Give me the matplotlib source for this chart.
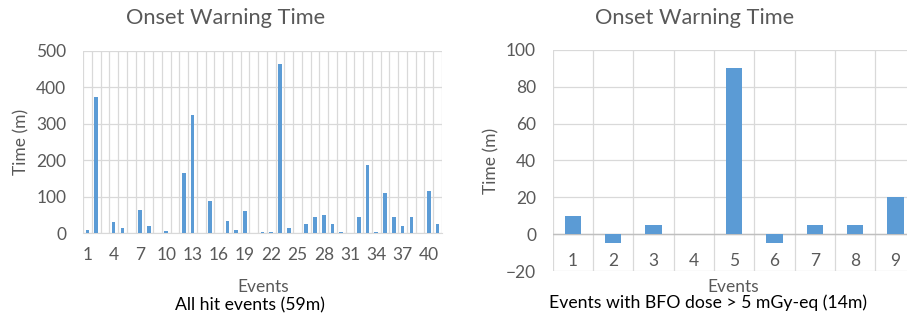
import numpy as np
import matplotlib.pyplot as plt

plt.rcParams['font.family'] = ['Lato', 'DejaVu Sans']

# left chart: all hit events
all_events = list(range(1, 42))
all_times = [9, 374, 0, 30, 15, 0, 62, 19, 0, 5, 0, 165, 325, 0, 88, 0, 34, 9, 60, 0,
             4, 4, 465, 15, 0, 26, 45, 49, 26, 4, 0, 45, 188, 4, 110, 45, 19, 45, 0, 115, 26]
all_ticks = list(range(1, 42, 3))

# right chart: events with BFO dose > 5 mGy-eq
bfo_events = list(range(1, 10))
bfo_times = [10, -5, 5, 0, 90, -5, 5, 5, 20]

bar_color = '#5B9BD5'
grid_color = '#D9D9D9'
text_color = '#595959'

fig = plt.figure(figsize=(9.07, 3.25), dpi=100)
fs = 12.5

# left
ax1 = fig.add_axes([83 / 907, 1 - 233 / 325, 359 / 907, 182 / 325])
ax1.bar(all_events, all_times, width=0.42, color=bar_color, zorder=3)
ax1.set_xlim(0.5, 41.5)
ax1.set_ylim(0, 500)
ax1.set_yticks(range(0, 501, 100))
ax1.set_xticks(all_ticks)
ax1.set_xticks(np.arange(0.5, 42, 1), minor=True)
ax1.grid(axis='y', color=grid_color, lw=0.9, zorder=0)
ax1.grid(axis='x', which='minor', color=grid_color, lw=0.9, zorder=0)
ax1.tick_params(which='both', length=0, labelsize=fs, colors=text_color)
ax1.tick_params(axis='x', pad=10)
ax1.tick_params(axis='y', pad=12)
for s in ['top', 'right', 'left']:
    ax1.spines[s].set_visible(False)
ax1.spines['bottom'].set_color(grid_color)
ax1.set_ylabel('Time (m)', fontsize=fs, color=text_color, labelpad=5)

# right
ax2 = fig.add_axes([552.7 / 907, 1 - 271 / 325, 363 / 907, 221 / 325])
ax2.bar(bfo_events, bfo_times, width=0.4, color=bar_color, zorder=3)
ax2.set_xlim(0.5, 9.5)
ax2.set_ylim(-20, 100)
ax2.set_yticks(range(-20, 101, 20))
ax2.set_xticks([])
ax2.set_xticks(np.arange(0.5, 10, 1), minor=True)
ax2.grid(axis='y', color=grid_color, lw=0.9, zorder=0)
ax2.grid(axis='x', which='minor', color=grid_color, lw=0.9, zorder=0)
ax2.axhline(0, color='#BFBFBF', lw=1, zorder=2)
ax2.tick_params(which='both', length=0, labelsize=fs, colors=text_color)
ax2.tick_params(axis='y', pad=12)
for s in ax2.spines.values():
    s.set_visible(False)
for e in bfo_events:
    ax2.text(e, -14.5, str(e), ha='center', va='center', fontsize=fs, color=text_color)
ax2.set_ylabel('Time (m)', fontsize=fs, color=text_color, labelpad=5)

# titles and captions
fig.text(226 / 907, 1 - 18 / 325, 'Onset Warning Time', ha='center', va='center',
         fontsize=15.7, color=text_color)
fig.text(695 / 907, 1 - 18 / 325, 'Onset Warning Time', ha='center', va='center',
         fontsize=15.7, color=text_color)
fig.text(263 / 907, 1 - 287 / 325, 'Events', ha='center', va='center',
         fontsize=fs, color=text_color)
fig.text(733 / 907, 1 - 287 / 325, 'Events', ha='center', va='center',
         fontsize=fs, color=text_color)
fig.text(250 / 907, 1 - 305 / 325, 'All hit events (59m)', ha='center', va='center',
         fontsize=12.7, color='black')
fig.text(708 / 907, 1 - 303 / 325, 'Events with BFO dose > 5 mGy-eq (14m)', ha='center',
         va='center', fontsize=12.7, color='black')

fig.savefig('out.png', dpi=100)
